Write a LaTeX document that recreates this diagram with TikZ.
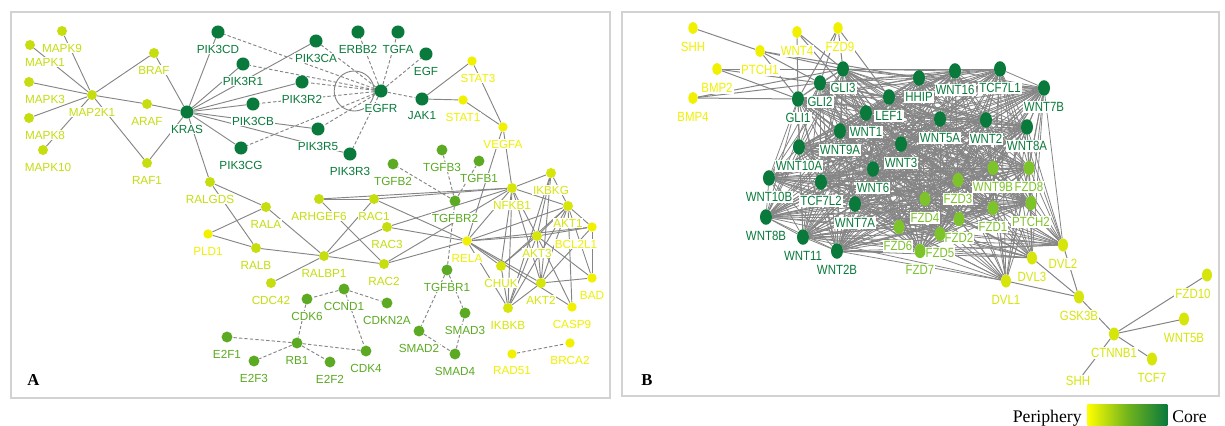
\documentclass[tikz,border=0pt]{standalone}
\usepackage{fontspec}
\setmainfont{Liberation Serif}
\setsansfont{Liberation Sans}
\newfontfamily\narrowsans[FakeStretch=0.86]{Liberation Sans}
\usepackage{xcolor}
\definecolor{cCore}{HTML}{0A7A3C}
\definecolor{cMid}{HTML}{5BAA22}
\definecolor{cFzd}{HTML}{7DC32A}
\definecolor{cLime}{HTML}{C6DD10}
\definecolor{cYG}{HTML}{D6E60A}
\definecolor{cYel}{HTML}{F0F000}
\definecolor{cEdge}{HTML}{858585}
\definecolor{cFrame}{HTML}{D2D2D2}
\usepackage{tikz}
\usetikzlibrary{shapes.geometric}
\pgfdeclarelayer{edges}
\pgfdeclarelayer{labels}
\pgfsetlayers{edges,labels,main}
\tikzset{
  dot-a/.style={circle,inner sep=0pt,draw=none},
  dot-b/.style={ellipse,inner sep=0pt,draw=none},
  lbl-a/.style={font=\sffamily\fontsize{8.8}{9}\selectfont,fill=white,inner sep=0.6pt},
  lbl-b/.style={font=\narrowsans\fontsize{10}{11}\selectfont,fill=white,inner sep=0.8pt},
  edge-a/.style={draw=cEdge,line width=0.7pt},
  edge-a-dash/.style={edge-a,dash pattern=on 2.5pt off 1.6pt},
  edge-b/.style={draw=cEdge,line width=0.6pt},
  frame/.style={draw=cFrame,line width=1.1pt},
  tag/.style={font=\bfseries\fontsize{12.5}{13}\selectfont,inner sep=0pt,anchor=base west},
  legend-text/.style={font=\fontsize{13.3}{14}\selectfont,inner sep=0pt},
}

\begin{document}
\begin{tikzpicture}[x=0.75pt,y=-0.75pt]
  \useasboundingbox (0,0) rectangle (1225,425);

  % panel A: nodes
  \foreach \nm/\px/\py/\col/\sz/\dx in {
    MAPK9/62/31/cLime/7.5/0, MAPK1/30/45/cLime/7.5/15, MAPK3/29/82/cLime/7.5/16,
    MAPK8/29/118/cLime/7.5/16, MAPK10/43/150/cLime/7.5/5, MAP2K1/92/95/cLime/7.5/0,
    BRAF/154/53/cLime/7.5/0, ARAF/147/104/cLime/7.5/0, RAF1/147/163/cLime/7.5/0,
    KRAS/187/112/cCore/9.8/0, PIK3CD/218/32/cCore/9.8/0, PIK3CA/316/41/cCore/9.8/0,
    PIK3R1/243/64/cCore/9.8/0, PIK3R2/302/82/cCore/9.8/0, PIK3CB/253/104/cCore/9.8/0,
    PIK3R5/318/129/cCore/9.8/0, PIK3CG/241/148/cCore/9.8/0, PIK3R3/350/154/cCore/9.8/0,
    ERBB2/358/32/cCore/9.8/0, TGFA/398/32/cCore/9.8/0, EGF/426/54/cCore/9.8/0,
    EGFR/381/91/cCore/9.8/0, JAK1/422/99/cCore/9.8/0,
    STAT3/472/61/cYel/7/6, STAT1/463/100/cYel/7/0, VEGFA/503/127/cYel/7/0,
    RALGDS/210/182/cLime/7.5/0, RALA/266/207/cLime/7.5/0, PLD1/208/234/cYel/7/0,
    RALB/256/248/cLime/7.5/0, RALBP1/324/256/cLime/7.5/0, CDC42/271/283/cLime/7.5/0,
    ARHGEF6/319/199/cLime/7.5/0, RAC1/374/199/cLime/7.5/0, RAC3/387/227/cLime/7.5/0,
    RAC2/384/264/cLime/7.5/0,
    TGFB3/442/150/cMid/8.2/0, TGFB2/393/164/cMid/8.2/0, TGFB1/479/161/cMid/8.2/0,
    TGFBR2/455/201/cMid/8.2/0, TGFBR1/447/270/cMid/8.2/0, SMAD2/419/331/cMid/8.2/0,
    SMAD3/465/313/cMid/8.2/0, SMAD4/455/354/cMid/8.2/0, CCND1/344/289/cMid/8.2/0,
    CDK6/307/299/cMid/8.2/0, CDKN2A/387/303/cMid/8.2/0, E2F1/227/337/cMid/8.2/0,
    RB1/297/343/cMid/8.2/0, CDK4/366/351/cMid/8.2/0, E2F3/254/361/cMid/8.2/0,
    E2F2/330/362/cMid/8.2/0,
    NFKB1/512/188/cYG/7.5/0, IKBKG/551/173/cYG/7.5/0, AKT1/568/206/cYG/7.5/0,
    BCL2L1/592/227/cYel/7/-16, AKT3/537/236/cYG/7.5/0, RELA/467/241/cYel/7/0,
    CHUK/501/266/cYG/7.5/0, AKT2/541/283/cYG/7.5/0, BAD/592/278/cYel/7/0,
    IKBKB/508/308/cYG/7.5/0, CASP9/572/307/cYel/7/0, RAD51/512/354/cYel/7/0,
    BRCA2/570/343/cYel/7/0}{
    \node[dot-a,fill=\col,minimum size=\sz pt] (\nm) at (\px,\py) {};
    \begin{pgfonlayer}{labels}
      \node[lbl-a,text=\col] (\nm-l) at ({\px+\dx},{\py+17}) {\nm};
    \end{pgfonlayer}
  }

  % panel B: nodes
  \foreach \nm/\px/\py/\col/\sz/\dx in {
    SHH/693/28/cYel/7/0, WNT4/797/32/cYel/7/0, FZD9/838/28/cYel/7/2,
    PTCH1/760/51/cYel/7/0, BMP2/717/69/cYel/7/0, BMP4/693/98/cYel/7/0,
    GLI3/843/69/cCore/9/0, GLI2/820/83/cCore/9/0, GLI1/798/99/cCore/9/0,
    HHIP/919/78/cCore/9/0, WNT16/955/71/cCore/9/0, TCF7L1/1000/69/cCore/9/0,
    WNT7B/1044/88/cCore/9/0, LEF1/889/97/cCore/9/0, WNT1/866/113/cCore/9/0,
    WNT5A/940/119/cCore/9/0, WNT2/986/120/cCore/9/0, WNT8A/1027/127/cCore/9/0,
    WNT9A/840/131/cCore/9/0, WNT3/901/144/cCore/9/0, WNT10A/799/147/cCore/9/0,
    WNT10B/769/178/cCore/9/0, TCF7L2/821/182/cCore/9/0, WNT6/873/169/cCore/9/0,
    WNT7A/855/204/cCore/9/0, WNT8B/766/217/cCore/9/0, WNT11/803/237/cCore/9/0,
    WNT2B/837/251/cCore/9/0,
    WNT9B/993/168/cFzd/8.2/0, FZD8/1029/168/cFzd/8.2/0, FZD3/958/180/cFzd/8.2/0,
    FZD4/925/199/cFzd/8.2/0, FZD1/993/208/cFzd/8.2/0, PTCH2/1031/203/cFzd/8.2/0,
    FZD2/959/219/cFzd/8.2/0, FZD6/899/227/cFzd/8.2/-1, FZD5/940/234/cFzd/8.2/0,
    FZD7/920/251/cFzd/8.2/0,
    DVL1/1006/281/cYG/7.5/0, DVL2/1063/245/cYG/7.5/0, DVL3/1032/258/cYG/7.5/0,
    GSK3B/1079/297/cYG/7.5/0, CTNNB1/1114/334/cYG/7.5/0, FZD10/1207/275/cYG/7.5/-14,
    WNT5B/1184/319/cYG/7.5/0, TCF7/1152/359/cYG/7.5/0}{
    \node[dot-b,fill=\col,minimum width=\sz pt,minimum height={1.3*\sz pt}] (\nm) at (\px,\py) {};
    \begin{pgfonlayer}{labels}
      \node[lbl-b,text=\col] (\nm-l) at ({\px+\dx},{\py+19}) {\nm};
    \end{pgfonlayer}
  }
  \begin{pgfonlayer}{labels}
    \node[lbl-b,text=cYG] (SHHb) at (1078,381) {SHH};
  \end{pgfonlayer}

  \begin{pgfonlayer}{edges}
    \draw[frame] (11,12) rectangle (610,398);
    \draw[frame] (622,12) rectangle (1219,396);

    % panel A: edges
    \foreach \a/\b in {MAP2K1/MAPK9, MAP2K1/MAPK1, MAP2K1/MAPK3, MAP2K1/MAPK8,
      MAP2K1/MAPK10, MAP2K1/BRAF, MAP2K1/ARAF, ARAF/KRAS, MAP2K1/RAF1, BRAF/KRAS,
      RAF1/KRAS, KRAS/PIK3CD, KRAS/PIK3CA, KRAS/PIK3R1, KRAS/PIK3R2, KRAS/PIK3CB,
      KRAS/PIK3R5, KRAS/PIK3R3, KRAS/PIK3CG, KRAS/RALGDS,
      JAK1/STAT3, JAK1/STAT1, STAT3/VEGFA, STAT1/VEGFA, VEGFA/NFKB1, VEGFA/RELA,
      RALGDS/RALA, RALGDS/RALB, RALA/PLD1, RALA/RALBP1, PLD1/RALB, RALB/RALBP1,
      RALBP1/CDC42, RALBP1/RAC1, RALBP1/RAC3, RALBP1/RAC2, ARHGEF6/RAC1,
      ARHGEF6/RAC2, ARHGEF6/NFKB1, RAC1/NFKB1, RAC1/RELA, RAC3/RELA, RAC3/NFKB1,
      RAC2/RELA, RAC2/NFKB1,
      NFKB1/IKBKG, NFKB1/AKT1, NFKB1/RELA, NFKB1/CHUK, NFKB1/IKBKB, NFKB1/AKT3,
      NFKB1/AKT2, IKBKG/AKT3, IKBKG/AKT1, IKBKG/IKBKB, IKBKG/AKT2,
      AKT1/BCL2L1, AKT1/BAD, AKT1/CASP9, AKT1/AKT3, AKT1/RELA, AKT1/CHUK,
      AKT1/AKT2, AKT1/IKBKB, BCL2L1/BAD, BCL2L1/AKT2, BCL2L1/RELA, BCL2L1/AKT3,
      AKT3/RELA, AKT3/IKBKB, AKT3/AKT2, AKT3/BAD, AKT3/CASP9, AKT3/CHUK,
      RELA/CHUK, RELA/IKBKB, RELA/AKT2, RELA/CASP9, CHUK/IKBKB, AKT2/BAD,
      AKT2/IKBKB}
      \draw[edge-a] (\a) -- (\b);
    \foreach \a/\b in {EGFR/PIK3CD, EGFR/PIK3CA, EGFR/PIK3R1, EGFR/PIK3R2,
      EGFR/PIK3CB, EGFR/PIK3R5, EGFR/PIK3R3, EGFR/PIK3CG, EGFR/ERBB2, EGFR/TGFA,
      EGFR/EGF, EGFR/JAK1, TGFBR2/TGFB2, TGFBR2/TGFB3, TGFBR2/TGFB1,
      TGFBR2/TGFBR1, TGFBR1/SMAD2, TGFBR1/SMAD3, SMAD2/SMAD4, SMAD3/SMAD4,
      CCND1/CDK6, CCND1/CDKN2A, CCND1/CDK4, CDK6/RB1, RB1/E2F1, RB1/E2F3,
      RB1/E2F2, RB1/CDK4, RAD51/BRCA2}
      \draw[edge-a-dash] (\a) -- (\b);
    \draw[edge-a] (EGFR.west) arc[start angle=0,end angle=360,radius=15pt];

    % panel B: edges
    \def\meshB{GLI1,GLI2,GLI3,HHIP,WNT16,TCF7L1,WNT7B,LEF1,WNT1,WNT5A,WNT2,WNT8A,
      WNT9A,WNT3,WNT10A,WNT10B,TCF7L2,WNT6,WNT7A,WNT8B,WNT11,WNT2B,
      WNT9B,FZD8,FZD3,FZD4,FZD1,PTCH2,FZD2,FZD6,FZD5,FZD7}
    \foreach \a [count=\i] in \meshB {
      \foreach \b [count=\j] in \meshB {
        \ifnum\j>\i \draw[edge-b] (\a) -- (\b); \fi
      }
    }
    \foreach \a in {DVL1,DVL2,DVL3}
      \foreach \b in {WNT9B,FZD8,FZD3,FZD4,FZD1,PTCH2,FZD2,FZD6,FZD5,FZD7,
        WNT2B,WNT11,WNT7A,WNT6,WNT3,WNT5A,WNT2,WNT8A,TCF7L1,WNT7B}
        \draw[edge-b] (\a) -- (\b);
    \foreach \a/\b in {SHH/PTCH1, PTCH1/GLI1, PTCH1/GLI2, PTCH1/GLI3, PTCH1/HHIP,
      BMP2/GLI1, BMP2/GLI2, BMP2/GLI3, BMP4/GLI1, BMP4/GLI2, BMP4/GLI3,
      WNT4/GLI1, WNT4/GLI3, WNT4/WNT1, FZD9/GLI1, FZD9/GLI2, FZD9/GLI3,
      FZD9/LEF1, DVL1/GSK3B, DVL2/GSK3B, DVL3/GSK3B, GSK3B/CTNNB1,
      CTNNB1/FZD10, CTNNB1/WNT5B, CTNNB1/TCF7, CTNNB1/SHHb}
      \draw[edge-b,line width=0.75pt] (\a) -- (\b);
  \end{pgfonlayer}

  \node[tag] (tagA) at (27,385) {A};
  \node[tag] (tagB) at (641,385) {B};

  % legend
  \node[inner sep=0pt,anchor=north west,minimum width=60pt,minimum height=16pt,
    left color=yellow,right color=cCore,middle color=cMid!85!cYel] (scale) at (1087,404) {};
  \node[legend-text,anchor=base east] (periph) at (1082,422) {Periphery};
  \node[legend-text,anchor=base west] (core) at (1172,422) {Core};
\end{tikzpicture}
\end{document}
